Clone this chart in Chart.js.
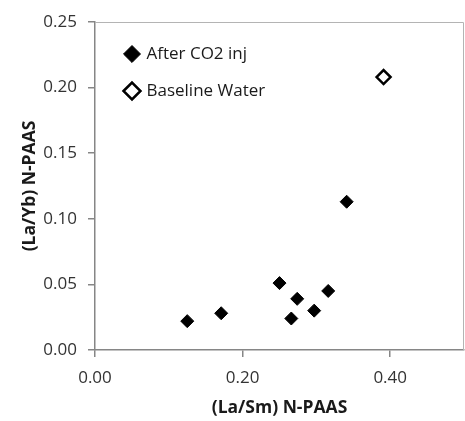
<!DOCTYPE html>
<html>
<head>
<meta charset="utf-8">
<script src="https://cdn.jsdelivr.net/npm/chart.js@4"></script>
<style>
  html, body { margin: 0; padding: 0; background: #fff; }
  #wrap { width: 465px; height: 421px; }
</style>
</head>
<body>
<div id="wrap"><canvas id="ree_plot" width="465" height="421"></canvas></div>
<script>
// (La/Sm) N-PAAS vs (La/Yb) N-PAAS
var afterCo2_x = [0.125, 0.171, 0.250, 0.266, 0.274, 0.297, 0.316, 0.341];
var afterCo2_y = [0.022, 0.028, 0.051, 0.024, 0.039, 0.030, 0.045, 0.113];
var baseline_x = [0.391];
var baseline_y = [0.208];
var xLimits = [0, 0.5], xStep = 0.2;
var yLimits = [0, 0.25], yStep = 0.05;

function toPoints(xs, ys) {
    return xs.map(function (x, i) { return {x: x, y: ys[i]}; });
}

var fontFam = "'Open Sans', sans-serif";

// grey frame round the plot area (top and right sides, like excel)
var plotFrame = {
    id: 'plotFrame',
    beforeDatasetsDraw: function (chart) {
        var a = chart.chartArea, c = chart.ctx;
        c.save();
        c.strokeStyle = '#b4b4b4';
        c.lineWidth = 1;
        c.beginPath();
        c.moveTo(a.left, a.top + 0.5);
        c.lineTo(a.right - 0.5, a.top + 0.5);
        c.lineTo(a.right - 0.5, a.bottom);
        c.stroke();
        c.restore();
    }
};

// put the legend inside the plot, a bit in from the corner
var legendNudge = {
    id: 'legendNudge',
    afterLayout: function (chart) {
        if (chart.legend) {
            chart.legend.left = chart.chartArea.left + 11;
            chart.legend.top = chart.chartArea.top + 3.5;
        }
    }
};

var ctx = document.getElementById('ree_plot').getContext('2d');
var reeChart = new Chart(ctx, {
    type: 'scatter',
    data: {
        datasets: [{
            label: 'After CO2 inj',
            data: toPoints(afterCo2_x, afterCo2_y),
            pointStyle: 'rectRot',
            pointRadius: 6.5,
            backgroundColor: '#000',
            borderColor: '#000',
            borderWidth: 1
        }, {
            label: 'Baseline Water',
            data: toPoints(baseline_x, baseline_y),
            pointStyle: 'rectRot',
            pointRadius: 7,
            backgroundColor: '#fff',
            borderColor: '#000',
            borderWidth: 2.5
        }]
    },
    options: {
        responsive: false,
        animation: false,
        layout: {autoPadding: false, padding: {left: 0, top: 22, right: 1, bottom: 0}},
        plugins: {
            tooltip: {enabled: false},
            legend: {
                position: 'chartArea',
                align: 'start',
                labels: {
                    usePointStyle: true,
                    boxWidth: 12,
                    boxHeight: 12,
                    padding: 20,
                    color: '#1a1a1a',
                    font: {family: fontFam, size: 17}
                }
            }
        },
        scales: {
            x: {
                type: 'linear',
                min: xLimits[0],
                max: xLimits[1],
                afterFit: function (s) {
                    s.height = 71;
                    s.paddingLeft = 0;
                    s.paddingRight = 0;
                },
                border: {color: '#868686', width: 1.5},
                grid: {display: true, drawOnChartArea: false, drawTicks: true, tickLength: 7, color: '#868686', lineWidth: 1.5},
                ticks: {
                    stepSize: xStep,
                    includeBounds: false,
                    padding: 11,
                    maxRotation: 0,
                    color: '#333',
                    font: {family: fontFam, size: 17},
                    callback: function (v) { return v.toFixed(2); }
                },
                title: {
                    display: true,
                    text: '(La/Sm) N-PAAS',
                    color: '#1a1a1a',
                    padding: {top: 2, bottom: 2},
                    font: {family: fontFam, size: 17.5, weight: 'bold'}
                }
            },
            y: {
                type: 'linear',
                min: yLimits[0],
                max: yLimits[1],
                afterFit: function (s) {
                    s.width = 95;
                    s.paddingTop = 0;
                    s.paddingBottom = 0;
                },
                border: {color: '#868686', width: 1.5},
                grid: {display: true, drawOnChartArea: false, drawTicks: true, tickLength: 7, color: '#868686', lineWidth: 1.5},
                ticks: {
                    stepSize: yStep,
                    padding: 11,
                    color: '#333',
                    font: {family: fontFam, size: 17},
                    callback: function (v) { return v.toFixed(2); }
                },
                title: {
                    display: true,
                    text: '(La/Yb) N-PAAS',
                    color: '#1a1a1a',
                    padding: {top: 20, bottom: 20},
                    font: {family: fontFam, size: 17.5, weight: 'bold'}
                }
            }
        }
    },
    plugins: [plotFrame, legendNudge]
});
</script>
</body>
</html>
